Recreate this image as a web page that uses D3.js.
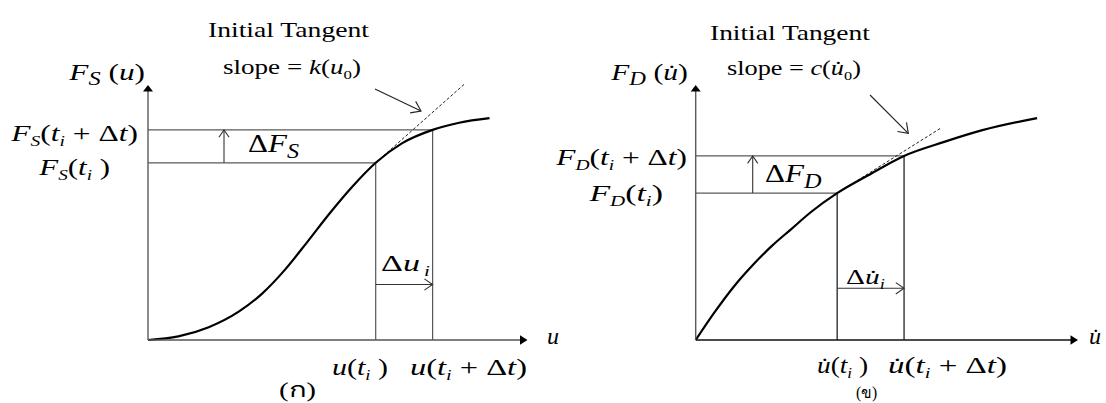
<!DOCTYPE html>
<html>
<head>
<meta charset="utf-8">
<script src="https://cdn.jsdelivr.net/npm/d3@7"></script>
<style>
  html, body { margin: 0; padding: 0; background: #fff; }
  svg { display: block; }
  text { font-family: "Liberation Serif", "Times New Roman", serif; fill: #000; }
</style>
</head>
<body>
<svg id="fig" width="1106" height="403"></svg>
<script>
// ---- (ก) spring force: S-shaped curve F_S(u) ----
const springU = [0, 8, 16, 24, 30, 36, 42, 48, 54, 60, 67, 75, 82, 90];
const springF = [0, 1.4, 5.0, 11.2, 18.1, 27.4, 38.5, 49.9, 60.4, 69.5, 77.2, 82.4, 85.2, 87.0];
const springStepU = [60, 75];        // u(t_i), u(t_i + Δt)
const springStepF = [69.5, 82.4];    // F_S(t_i), F_S(t_i + Δt)
const springSlope = 1.32;            // k(u_0)
const springTangentU = [61, 83.5];

// ---- (ข) damping force: concave curve F_D(u̇) ----
const dampV = [0, 5, 10, 15, 20, 25, 30, 37, 45, 54.5, 65, 75, 89.3];
const dampF = [0, 11, 21, 29.5, 37, 43.5, 50, 57.6, 64.5, 72.2, 77.7, 82.3, 87];
const dampStepV = [37, 54.5];        // u̇(t_i), u̇(t_i + Δt)
const dampStepF = [57.6, 72.2];      // F_D(t_i), F_D(t_i + Δt)
const dampSlope = 0.94;              // c(u̇_0)
const dampTangentV = [40, 64];

const UD = "u\u0307";  // u with dot above

const svg = d3.select("#fig");

// shared force scale, one horizontal scale per panel
const yScale = d3.scaleLinear().domain([0, 100]).range([340, 85]);
const xSpring = d3.scaleLinear().domain([0, 100]).range([148, 527.5]);
const xDamp = d3.scaleLinear().domain([0, 100]).range([695.7, 1078]);

function openHead(g, tip, dir, len, half, color) {
  const a = Math.atan2(dir[1], dir[0]) + Math.PI;
  const w1 = [tip[0] + len * Math.cos(a + half), tip[1] + len * Math.sin(a + half)];
  const w2 = [tip[0] + len * Math.cos(a - half), tip[1] + len * Math.sin(a - half)];
  g.append("path")
    .attr("d", `M${w1[0]},${w1[1]}L${tip[0]},${tip[1]}L${w2[0]},${w2[1]}`)
    .attr("fill", "none").attr("stroke", color).attr("stroke-width", 1.1);
}

function drawPanel(o) {
  const g = svg.append("g");
  const x = o.x, y = o.y;
  const x0 = x(0), y0 = y(0);
  const [ua, ub] = o.stepU, [fa, fb] = o.stepF;

  // guide lines for the two time steps
  g.append("line").attr("x1", x0).attr("x2", x(ub)).attr("y1", y(fb)).attr("y2", y(fb))
    .attr("stroke", o.guide).attr("stroke-width", 1.3);
  g.append("line").attr("x1", x0).attr("x2", x(ua)).attr("y1", y(fa)).attr("y2", y(fa))
    .attr("stroke", o.guide).attr("stroke-width", 1.3);
  g.append("line").attr("x1", x(ua)).attr("x2", x(ua)).attr("y1", y(fa)).attr("y2", y0)
    .attr("stroke", o.vert).attr("stroke-width", 1.2);
  g.append("line").attr("x1", x(ub)).attr("x2", x(ub)).attr("y1", y(fb)).attr("y2", y0)
    .attr("stroke", o.vert).attr("stroke-width", 1.2);

  // tangent line (dashed)
  const t0 = o.tangentU[0], t1 = o.tangentU[1];
  g.append("line")
    .attr("x1", x(t0)).attr("y1", y(fa + o.slope * (t0 - ua)))
    .attr("x2", x(t1)).attr("y2", y(fa + o.slope * (t1 - ua)))
    .attr("stroke", "#222").attr("stroke-width", 1).attr("stroke-dasharray", "3,2");

  // force curve
  const pts = o.u.map((d, i) => [d, o.f[i]]);
  g.append("path").datum(pts)
    .attr("d", d3.line().x(d => x(d[0])).y(d => y(d[1])).curve(d3.curveMonotoneX))
    .attr("fill", "none").attr("stroke", "#000").attr("stroke-width", 2.2);

  // ΔF arrow
  const ax = o.dfX;
  g.append("line").attr("x1", ax).attr("x2", ax).attr("y1", y(fa)).attr("y2", y(fb))
    .attr("stroke", "#333").attr("stroke-width", 1.1);
  openHead(g, [ax, y(fb)], [0, -1], 9, 0.6, "#333");

  // Δu arrow
  const ay = o.duY;
  g.append("line").attr("x1", x(ua)).attr("x2", x(ub)).attr("y1", ay).attr("y2", ay)
    .attr("stroke", "#333").attr("stroke-width", 1.1);
  openHead(g, [x(ub), ay], [1, 0], 10, 0.6, "#333");

  // axes with filled arrowheads
  const yt = y(100), xt = x(100);
  g.append("line").attr("x1", x0).attr("x2", x0).attr("y1", y0).attr("y2", yt + 4)
    .attr("stroke", o.guide).attr("stroke-width", 1.4);
  g.append("path").attr("d", `M${x0},${yt}L${x0 - 5},${yt + 6.5}L${x0 + 5},${yt + 6.5}Z`)
    .attr("fill", "#000");
  g.append("line").attr("x1", x0).attr("x2", xt - 4).attr("y1", y0).attr("y2", y0)
    .attr("stroke", o.xAxis).attr("stroke-width", 1.4);
  g.append("path").attr("d", `M${xt},${y0}L${xt - 7.5},${y0 - 4.8}L${xt - 7.5},${y0 + 4.8}Z`)
    .attr("fill", "#000");

  // pointer from the tangent note
  const p = o.pointer;
  g.append("line").attr("x1", p[0][0]).attr("y1", p[0][1]).attr("x2", p[1][0]).attr("y2", p[1][1])
    .attr("stroke", "#222").attr("stroke-width", 1.1);
  openHead(g, p[1], [p[1][0] - p[0][0], p[1][1] - p[0][1]], 11, 0.62, "#222");
}

drawPanel({
  x: xSpring, y: yScale, u: springU, f: springF,
  stepU: springStepU, stepF: springStepF, slope: springSlope, tangentU: springTangentU,
  guide: "#5a5a5a", vert: "#555", xAxis: "#555",
  dfX: 224, duY: 284.5, pointer: [[375, 89], [421, 111]]
});
drawPanel({
  x: xDamp, y: yScale, u: dampV, f: dampF,
  stepU: dampStepV, stepF: dampStepF, slope: dampSlope, tangentU: dampTangentV,
  guide: "#5a5a5a", vert: "#111", xAxis: "#111",
  dfX: 752.7, duY: 288.3, pointer: [[870, 95], [908.3, 133.3]]
});

// ---- text labels: parts are [text, flags] with i = italic, s = small subscript, S = large subscript
function label(x0, x1, y, size, parts) {
  const g = svg.append("g");
  const t = g.append("text").attr("font-size", size).attr("x", 0).attr("y", 0);
  let shift = 0;
  parts.forEach(p => {
    const [str, fl = ""] = Array.isArray(p) ? p : [p];
    const ts = t.append("tspan").text(str);
    if (fl.includes("i")) ts.attr("font-style", "italic");
    let target = 0;
    if (fl.includes("s")) { ts.attr("font-size", size * 0.62); target = size * 0.22; }
    if (fl.includes("S")) { ts.attr("font-size", size * 0.78); target = size * 0.22; }
    if (target - shift) ts.attr("dy", target - shift);
    shift = target;
  });
  const b = t.node().getBBox();
  const sx = (x1 - x0) / b.width;
  g.attr("transform", `translate(${x0 - b.x * sx},${y}) scale(${sx},1)`);
}

// panel (ก)
label(208, 369, 37, 21.5, ["Initial Tangent"]);
label(223, 361, 74, 21.5, ["slope = ", ["k", "i"], "(", ["u", "i"], ["0", "s"], ")"]);
label(68, 145, 80, 24, [["F", "i"], ["S", "iS"], " (", ["u", "i"], ")"]);
label(10, 138, 141, 24, [["F", "i"], ["S", "is"], "(", ["t", "i"], ["i", "is"], " + \u0394", ["t", "i"], ")"]);
label(38, 110, 175, 24, [["F", "i"], ["S", "is"], "(", ["t", "i"], ["i", "is"], " )"]);
label(248, 299, 152, 26, ["\u0394", ["F", "i"], ["S", "iS"]]);
label(381, 430, 271, 24, ["\u0394", ["u", "i"], ["\u2009i", "is"]]);
label(547, 559, 344, 24, [["u", "i"]]);
label(332, 388, 375, 24, [["u", "i"], "(", ["t", "i"], ["i", "is"], " )"]);
label(410, 527, 375, 24, [["u", "i"], "(", ["t", "i"], ["i", "is"], " + \u0394", ["t", "i"], ")"]);
label(279, 316, 397, 20, ["(\u0E01)"]);

// panel (ข)
label(710, 870, 40, 21.5, ["Initial Tangent"]);
label(727, 861, 75, 21.5, ["slope = ", ["c", "i"], "(", [UD, "i"], ["0", "s"], ")"]);
label(610, 688, 80, 24, [["F", "i"], ["D", "iS"], " (", [UD, "i"], ")"]);
label(555, 687, 165, 24, [["F", "i"], ["D", "is"], "(", ["t", "i"], ["i", "is"], " + \u0394", ["t", "i"], ")"]);
label(588, 663, 201, 24, [["F", "i"], ["D", "is"], "(", ["t", "i"], ["i", "is"], ")"]);
label(765, 822, 182, 26, ["\u0394", ["F", "i"], ["D", "iS"]]);
label(846, 885, 284, 22, ["\u0394", [UD, "i"], ["i", "is"]]);
label(1089, 1101, 344, 24, [[UD, "i"]]);
label(817, 868, 373, 24, [[UD, "i"], "(", ["t", "i"], ["i", "is"], " )"]);
label(888, 1007, 373, 24, [[UD, "i"], "(", ["t", "i"], ["i", "is"], " + \u0394", ["t", "i"], ")"]);
label(856, 877, 398, 16, ["(\u0E02)"]);
</script>
</body>
</html>
